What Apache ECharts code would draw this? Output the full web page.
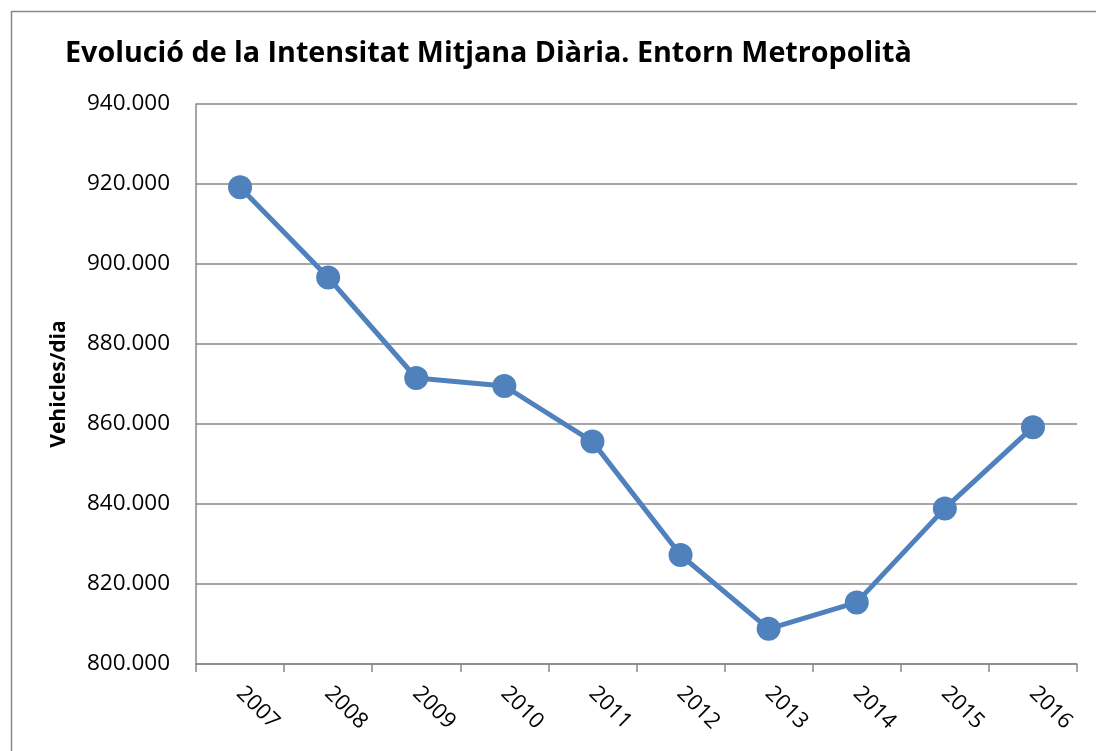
<!DOCTYPE html>
<html>
<head>
<meta charset="utf-8">
<script src="https://cdn.jsdelivr.net/npm/echarts@6/dist/echarts.min.js"></script>
<style>
html,body{margin:0;padding:0;background:#fff;}
#c{width:1096px;height:751px;}
</style>
</head>
<body>
<div id="c"></div>
<script>
const title = "Evolució de la Intensitat Mitjana Diària. Entorn Metropolità";
const yAxisName = "Vehicles/dia";
const years = ["2007","2008","2009","2010","2011","2012","2013","2014","2015","2016"];
const vehicles = [919200, 896600, 871500, 869500, 855600, 827250, 808800, 815400, 838900, 859200];
const yMin = 800000, yMax = 940000, yStep = 20000;

function fmt(v){
  return String(v).replace(/\B(?=(\d{3})+(?!\d))/g, '.');
}

const chart = echarts.init(document.getElementById('c'), null, {renderer:'canvas'});
chart.setOption({
  animation:false,
  backgroundColor:'#fff',
  title:{
    text:title,
    left:60, top:34,
    textStyle:{fontFamily:'Open Sans', fontWeight:'bold', fontSize:28.7, color:'#000'}
  },
  graphic:[{
    type:'rect', left:9, top:9,
    shape:{x:0,y:0,width:1100,height:760},
    style:{fill:'none', stroke:'#888', lineWidth:1.5},
    silent:true, z:-1
  }],
  grid:{left:196, top:104, right:19, bottom:87},
  xAxis:{
    type:'category', data:years, boundaryGap:true,
    axisLine:{lineStyle:{color:'#888', width:1.5}},
    axisTick:{show:true, length:8, lineStyle:{color:'#888', width:1.5}},
    axisLabel:{rotate:-45, fontFamily:'Open Sans', fontSize:22, color:'#000', margin:26}
  },
  yAxis:{
    type:'value', min:yMin, max:yMax, interval:yStep,
    name:yAxisName, nameLocation:'middle', nameGap:126, nameRotate:90,
    nameTextStyle:{fontFamily:'Open Sans', fontWeight:'bold', fontSize:21, color:'#000'},
    axisLine:{show:true, lineStyle:{color:'#888', width:1.5}},
    axisTick:{show:false},
    splitLine:{lineStyle:{color:'#888', width:1.5}},
    axisLabel:{formatter:fmt, fontFamily:'Open Sans', fontSize:22.5, color:'#000', margin:26}
  },
  series:[{
    type:'line', data:vehicles,
    symbol:'circle', symbolSize:24,
    lineStyle:{color:'#4F81BD', width:5},
    itemStyle:{color:'#4F81BD'}
  }]
});
</script>
</body>
</html>
